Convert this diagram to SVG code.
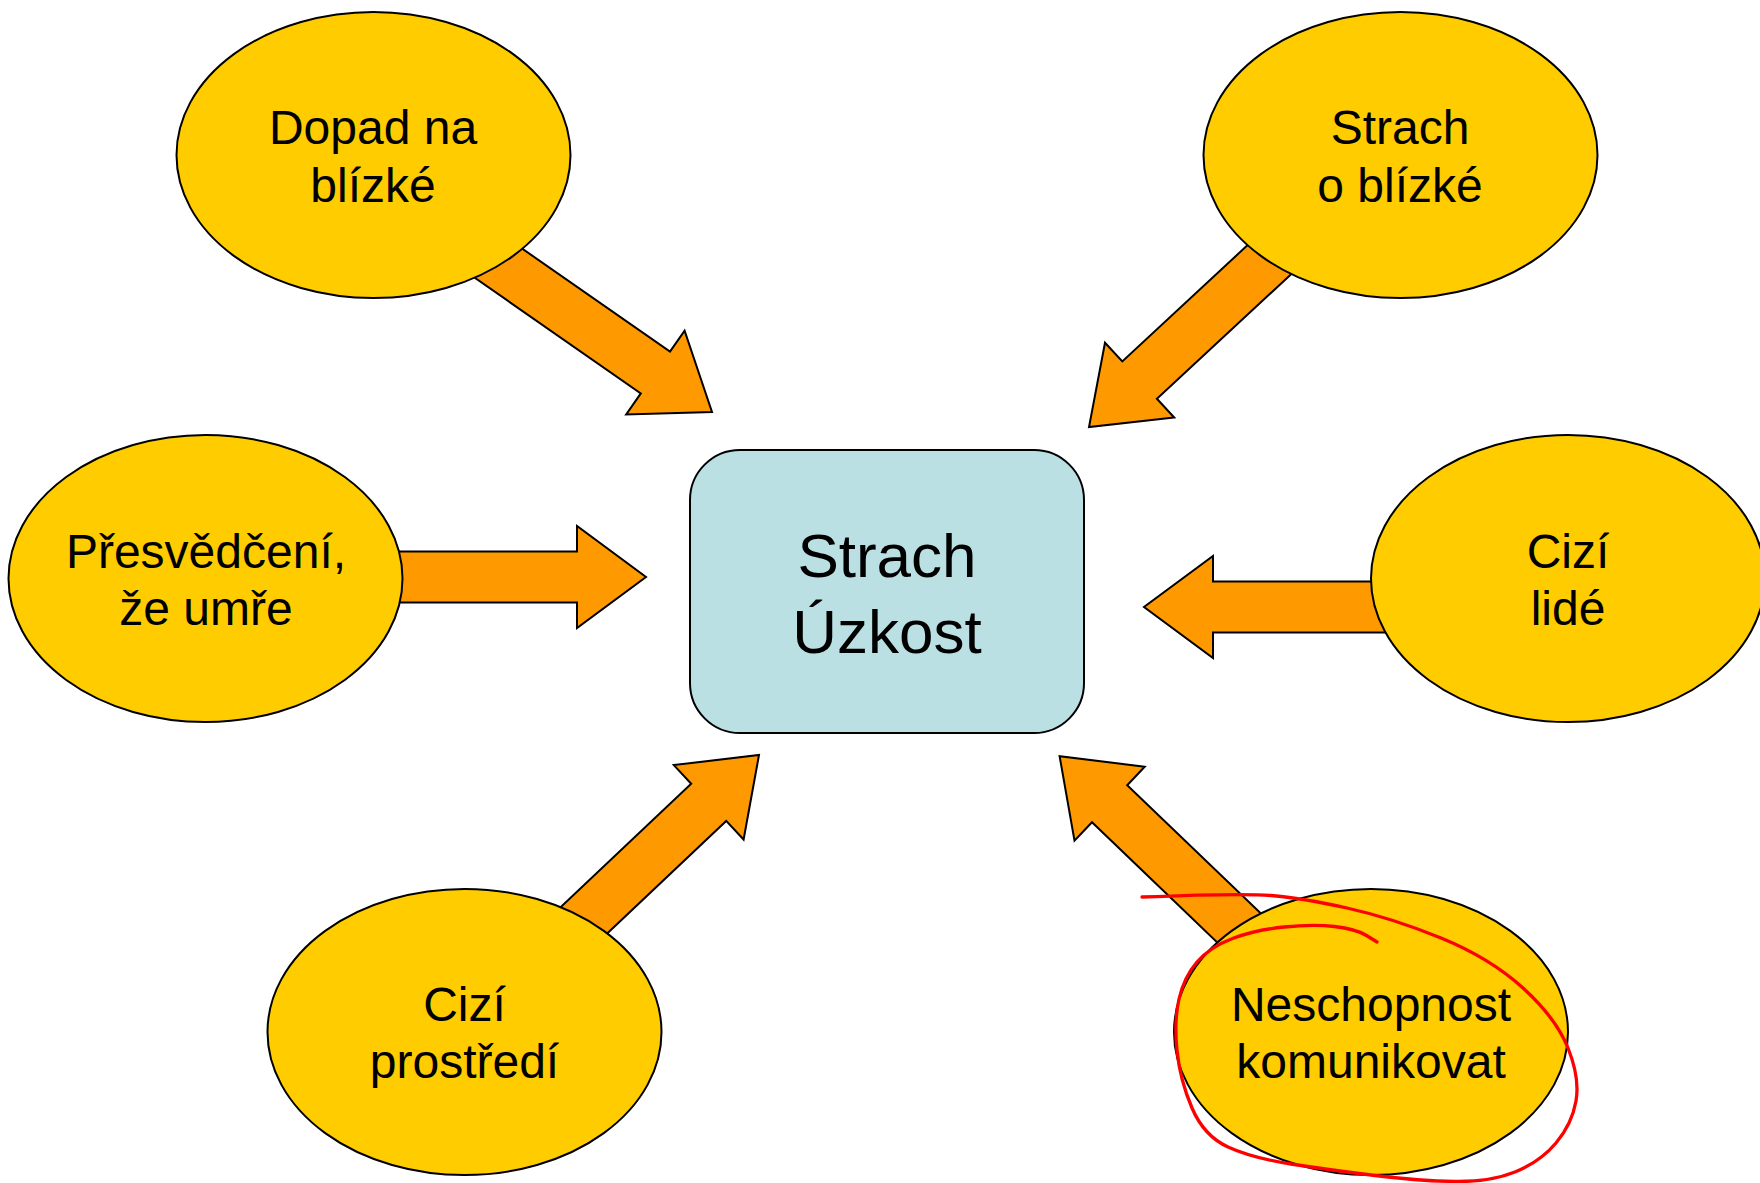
<svg xmlns="http://www.w3.org/2000/svg" width="1760" height="1183" viewBox="0 0 1760 1183">
<style>
.arrow{fill:#FF9900;stroke:#000;stroke-width:2;stroke-linejoin:miter}
.oval{fill:#FFCC00;stroke:#000;stroke-width:2}
.box{fill:#BAE0E4;stroke:#000;stroke-width:2}
.t{font-family:"Liberation Sans",Arial,sans-serif;font-size:48px;fill:#000;text-anchor:middle}
.tc{font-family:"Liberation Sans",Arial,sans-serif;font-size:62px;fill:#000;text-anchor:middle}
.mark{fill:none;stroke:#FF0000;stroke-width:3.3;stroke-linecap:round;stroke-linejoin:round}
</style>
<rect width="1760" height="1183" fill="#fff"/>
<g id="connectors">
<polygon class="arrow" points="380,551.5 577,551.5 577,526 646,577 577,628 577,602.5 380,602.5"/>
<polygon class="arrow" points="1400,581.5 1213,581.5 1213,556 1144,607 1213,658 1213,632.5 1400,632.5"/>
<polygon class="arrow" points="451.4,261.5 640.8,393.4 626.2,414.4 712,412 684.6,330.6 670,351.6 480.6,219.7"/>
<polygon class="arrow" points="1282.1,213.1 1122.3,361.4 1105,342.7 1089,427 1174.2,417.5 1156.9,398.8 1316.7,250.5"/>
<polygon class="arrow" points="573.3,965.5 726.2,820.9 743.6,839.5 759,755 673.8,765.1 691.2,783.7 538.3,928.3"/>
<polygon class="arrow" points="1288.6,940.1 1127.2,785.2 1144.7,766.7 1059.6,756.2 1074.5,840.7 1092,822.2 1253.4,977.1"/>
</g>
<g id="center">
<rect class="box" x="690" y="450" width="394" height="283" rx="50" ry="50"/>
<text class="tc" x="887" y="577">Strach</text>
<text class="tc" x="887" y="653">Úzkost</text>
</g>
<g id="dopad">
<ellipse class="oval" cx="373.5" cy="155" rx="197" ry="143"/>
<text class="t" x="373" y="144">Dopad na</text>
<text class="t" x="373" y="202">blízké</text>
</g>
<g id="strach-blizke">
<ellipse class="oval" cx="1400.5" cy="155" rx="197" ry="143"/>
<text class="t" x="1400" y="144">Strach</text>
<text class="t" x="1400" y="202">o blízké</text>
</g>
<g id="presvedceni">
<ellipse class="oval" cx="205.5" cy="578.5" rx="197" ry="143.5"/>
<text class="t" x="206" y="568">Přesvědčení,</text>
<text class="t" x="206" y="625">že umře</text>
</g>
<g id="cizi-lide">
<ellipse class="oval" cx="1568" cy="578.5" rx="197" ry="143.5"/>
<text class="t" x="1568" y="568">Cizí</text>
<text class="t" x="1568" y="625">lidé</text>
</g>
<g id="cizi-prostredi">
<ellipse class="oval" cx="464.5" cy="1032" rx="197" ry="143"/>
<text class="t" x="464.5" y="1021">Cizí</text>
<text class="t" x="464.5" y="1078">prostředí</text>
</g>
<g id="neschopnost">
<ellipse class="oval" cx="1371" cy="1032" rx="197" ry="143"/>
<text class="t" x="1371" y="1021">Neschopnost</text>
<text class="t" x="1371" y="1078">komunikovat</text>
</g>
<path class="mark" d="M1142,897 Q1240,893 1271,895.5 Q1302,898 1347,908 Q1392,918 1441,938 Q1490,958 1523,988 Q1556,1018 1568,1048 Q1580,1078 1576,1101 Q1572,1124 1556,1143 Q1540,1162 1515,1172 Q1490,1182 1455,1181.5 Q1420,1181 1375,1175.5 Q1330,1170 1291,1164 Q1252,1158 1228,1147 Q1204,1136 1192,1108 Q1180,1080 1177,1050.5 Q1174,1021 1179,999 Q1184,977 1197,962 Q1210,947 1232.5,938.5 Q1255,930 1284,927 Q1313,924 1334.5,926.5 Q1356,929 1366.5,935.5 L1377,942"/>
</svg>
